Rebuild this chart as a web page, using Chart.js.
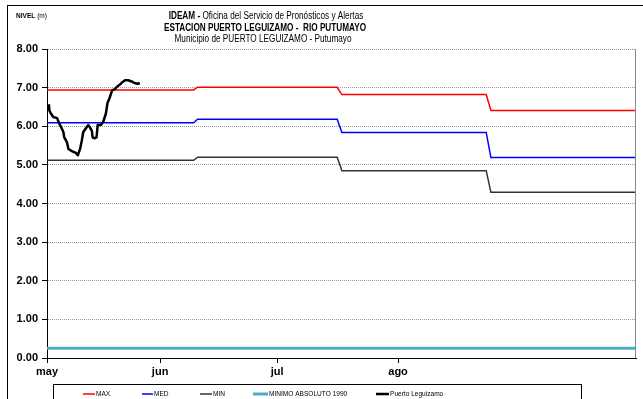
<!DOCTYPE html>
<html>
<head>
<meta charset="utf-8">
<script src="https://cdn.jsdelivr.net/npm/chart.js@4.4.0/dist/chart.umd.min.js"></script>
<style>
  html, body { margin: 0; padding: 0; background: #fff; }
  #wrap { width: 643px; height: 399px; }
</style>
</head>
<body>
<div id="wrap"><canvas id="myChart" width="643" height="399"></canvas></div>
<script>
// x values are days counted from 1 May (may = 0, jun = 31, jul = 61, ago = 92)
var monthTicks = [2, 31, 61, 92];
var monthLabels = ['may', 'jun', 'jul', 'ago'];

// reference levels (step lines)
var refDays   = [2, 39.6, 40.6, 76.4, 77.6, 114.6, 115.8, 153];
var maxLevels = [6.94, 6.94, 7.01, 7.01, 6.82, 6.82, 6.41, 6.41];
var medLevels = [6.09, 6.09, 6.18, 6.18, 5.84, 5.84, 5.19, 5.19];
var minLevels = [5.12, 5.12, 5.20, 5.20, 4.85, 4.85, 4.29, 4.29];

var minAbsDays   = [2, 153];
var minAbsLevels = [0.25, 0.25];

// observed level, Puerto Leguizamo
var stationDays = [2.5, 2.6, 3.0, 3.6, 4.6, 5.0, 5.6, 6.2, 6.4, 7.1, 7.5, 8.5, 9.4, 9.9,
  10.5, 10.9, 11.3, 12.2, 12.6, 13.0, 13.5, 13.7, 14.3, 14.7, 15.0, 15.8, 16.4, 17.1,
  17.5, 17.9, 18.4, 18.7, 19.4, 20.0, 20.7, 21.3, 22.0, 22.8, 23.7, 24.4, 25.3, 25.8];
var stationLevels = [6.57, 6.41, 6.33, 6.24, 6.21, 6.10, 5.98, 5.85, 5.72, 5.59, 5.41, 5.35, 5.31, 5.25,
  5.42, 5.62, 5.85, 5.98, 6.03, 5.97, 5.88, 5.71, 5.69, 5.71, 6.03, 6.03, 6.11, 6.33,
  6.60, 6.69, 6.84, 6.93, 6.96, 7.03, 7.08, 7.14, 7.19, 7.19, 7.16, 7.12, 7.10, 7.12];

function pts(xs, ys) {
  var out = [];
  for (var i in xs) out.push({x: xs[i], y: ys[i]});
  return out;
}

var SX = 0.82; // narrow text look
var narrowFont = '"Liberation Sans", Arial, sans-serif';

function drawNarrow(ctx, parts, x, y, size, align) {
  var total = 0;
  parts.forEach(function(p) {
    ctx.font = (p.bold ? 'bold ' : '') + size + 'px ' + narrowFont;
    p.w = ctx.measureText(p.text).width * SX;
    total += p.w;
  });
  var start = align === 'center' ? x - total / 2 : x;
  parts.forEach(function(p) {
    ctx.save();
    ctx.font = (p.bold ? 'bold ' : '') + size + 'px ' + narrowFont;
    ctx.textBaseline = 'middle';
    ctx.textAlign = 'left';
    ctx.fillStyle = '#000';
    ctx.translate(start, y);
    ctx.scale(SX, 1);
    ctx.fillText(p.text, 0, 0);
    ctx.restore();
    start += p.w;
  });
}

var decor = {
  id: 'decor',
  afterDraw: function(chart) {
    var ctx = chart.ctx;
    var a = chart.chartArea;
    ctx.save();
    // outer frame
    ctx.strokeStyle = '#000';
    ctx.lineWidth = 1;
    ctx.strokeRect(7.5, 5.5, 700, 500);
    // right edge of plot
    ctx.strokeStyle = '#888';
    ctx.beginPath();
    ctx.moveTo(Math.round(a.right) - 0.5, a.top);
    ctx.lineTo(Math.round(a.right) - 0.5, a.bottom);
    ctx.stroke();

    // titles
    drawNarrow(ctx, [{text: 'IDEAM -', bold: true}, {text: ' Oficina del Servicio de Pronósticos y Alertas'}], 266, 16, 10, 'center');
    drawNarrow(ctx, [{text: 'ESTACION PUERTO LEGUIZAMO -  RIO PUTUMAYO', bold: true}], 265, 28, 10, 'center');
    drawNarrow(ctx, [{text: 'Municipio de PUERTO LEGUIZAMO - Putumayo'}], 263, 39, 10, 'center');
    drawNarrow(ctx, [{text: 'NIVEL', bold: true}, {text: ' (m)'}], 16, 16, 8, 'left');

    // legend box
    ctx.strokeStyle = '#000';
    ctx.lineWidth = 1;
    ctx.strokeRect(53.5, 384.5, 528, 40);
    var lx = [83, 142, 200, 253, 376];
    var lw = [12, 11, 12, 15, 13];
    chart.data.datasets.forEach(function(ds, i) {
      ctx.strokeStyle = ds.borderColor;
      ctx.lineWidth = ds.borderWidth;
      ctx.beginPath();
      ctx.moveTo(lx[i], 394);
      ctx.lineTo(lx[i] + lw[i], 394);
      ctx.stroke();
      drawNarrow(ctx, [{text: ds.label}], lx[i] + lw[i] + 1, 394, 8, 'left');
    });
    ctx.restore();
  }
};

var data = {
  datasets: [{
    label: 'MAX',
    data: pts(refDays, maxLevels),
    borderColor: '#ff0000',
    borderWidth: 1.5,
    order: 2
  }, {
    label: 'MED',
    data: pts(refDays, medLevels),
    borderColor: '#0000ff',
    borderWidth: 1.5,
    order: 2
  }, {
    label: 'MIN',
    data: pts(refDays, minLevels),
    borderColor: '#333333',
    borderWidth: 1.5,
    order: 2
  }, {
    label: 'MINIMO ABSOLUTO 1990',
    data: pts(minAbsDays, minAbsLevels),
    borderColor: '#4bacc6',
    borderWidth: 3,
    order: 1
  }, {
    label: 'Puerto Leguizamo',
    data: pts(stationDays, stationLevels),
    borderColor: '#000000',
    borderWidth: 2.5,
    borderJoinStyle: 'round',
    order: 0
  }]
};

var config = {
  type: 'line',
  data: data,
  options: {
    responsive: false,
    animation: false,
    devicePixelRatio: 1,
    elements: { point: { radius: 0 }, line: { tension: 0, fill: false } },
    layout: { padding: { left: 0, top: 49, right: 7, bottom: 0 } },
    plugins: {
      legend: { display: false },
      title: { display: false },
      tooltip: { enabled: false }
    },
    scales: {
      x: {
        type: 'linear',
        min: 2,
        max: 153,
        afterBuildTicks: function(scale) {
          scale.ticks = monthTicks.map(function(v) { return {value: v}; });
        },
        afterFit: function(scale) { scale.height = 41; },
        ticks: {
          autoSkip: false,
          maxRotation: 0,
          padding: 2,
          color: '#000',
          font: { family: narrowFont, size: 11, weight: 'bold' },
          callback: function(v) { return monthLabels[monthTicks.indexOf(v)]; }
        },
        grid: { drawOnChartArea: false, drawTicks: true, tickLength: 5, tickColor: '#000' },
        border: { color: '#000', width: 1 }
      },
      y: {
        min: 0,
        max: 8,
        afterFit: function(scale) { scale.width = 47; },
        ticks: {
          stepSize: 1,
          padding: 4,
          color: '#000',
          font: { family: narrowFont, size: 11, weight: 'bold' },
          callback: function(v) { return v.toFixed(2); }
        },
        grid: {
          color: function(c) { return c.tick && c.tick.value === 0 ? 'transparent' : '#9a9a9a'; },
          lineWidth: 1,
          tickLength: 5,
          tickColor: '#000',
          tickBorderDash: []
        },
        border: { color: '#000', width: 1, dash: [1, 1] }
      }
    }
  },
  plugins: [decor]
};

var myChart = new Chart(document.getElementById('myChart'), config);
</script>
</body>
</html>
